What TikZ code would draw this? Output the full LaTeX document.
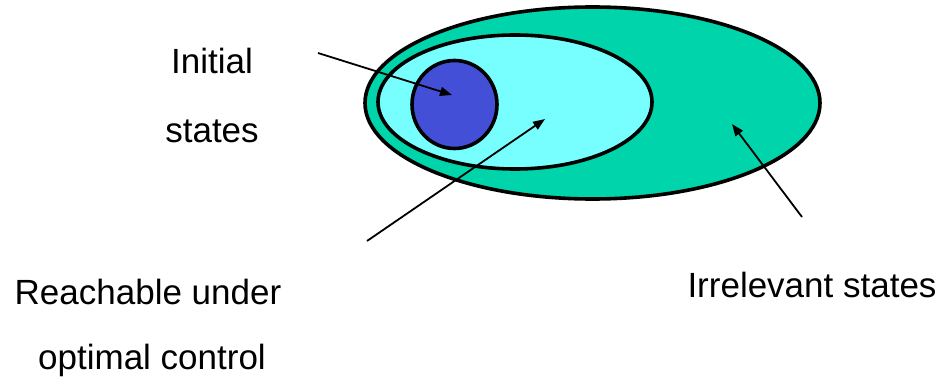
\documentclass[tikz,border=0pt]{standalone}
\usepackage{fontspec}
\setmainfont{Liberation Sans}
\usetikzlibrary{shapes.geometric,arrows.meta}
\definecolor{teal1}{RGB}{0,212,170}
\definecolor{cyan1}{RGB}{119,255,255}
\definecolor{blue1}{RGB}{66,79,214}
\tikzset{
  region/.style={ellipse, draw=black, line width=3.6pt, inner sep=0pt},
  lbl/.style={anchor=base, inner sep=0pt, font=\fontsize{35}{40}\selectfont},
  pointer/.style={line width=1.8pt, -{Triangle[length=12pt,width=9pt]}}
}
\begin{document}
\begin{tikzpicture}[x=1pt,y=-1pt]
\useasboundingbox (0,0) rectangle (943,377);
\node[region, fill=teal1, minimum width=455pt, minimum height=192pt] (outer) at (592.5,103) {};
\node[region, fill=cyan1, minimum width=274pt, minimum height=134pt] (inner) at (515,102) {};
\node[region, fill=blue1, minimum width=85pt, minimum height=88pt] (init) at (454.5,104.5) {};
\node[lbl] (t1) at (212,74) {Initial};
\node[lbl] (t2) at (212,143) {states};
\node[lbl] (t3) at (148,304) {Reachable under};
\node[lbl] (t4) at (152,369) {optimal control};
\node[lbl] (t5) at (812,297) {Irrelevant states};
\coordinate (s1) at (318,53);
\coordinate (e1) at (452,95);
\coordinate (s2) at (367,241);
\coordinate (e2) at (545,119);
\coordinate (s3) at (802,217);
\coordinate (e3) at (732,124);
\draw[pointer] (s1) -- (e1);
\draw[pointer] (s2) -- (e2);
\draw[pointer] (s3) -- (e3);
\end{tikzpicture}
\end{document}
